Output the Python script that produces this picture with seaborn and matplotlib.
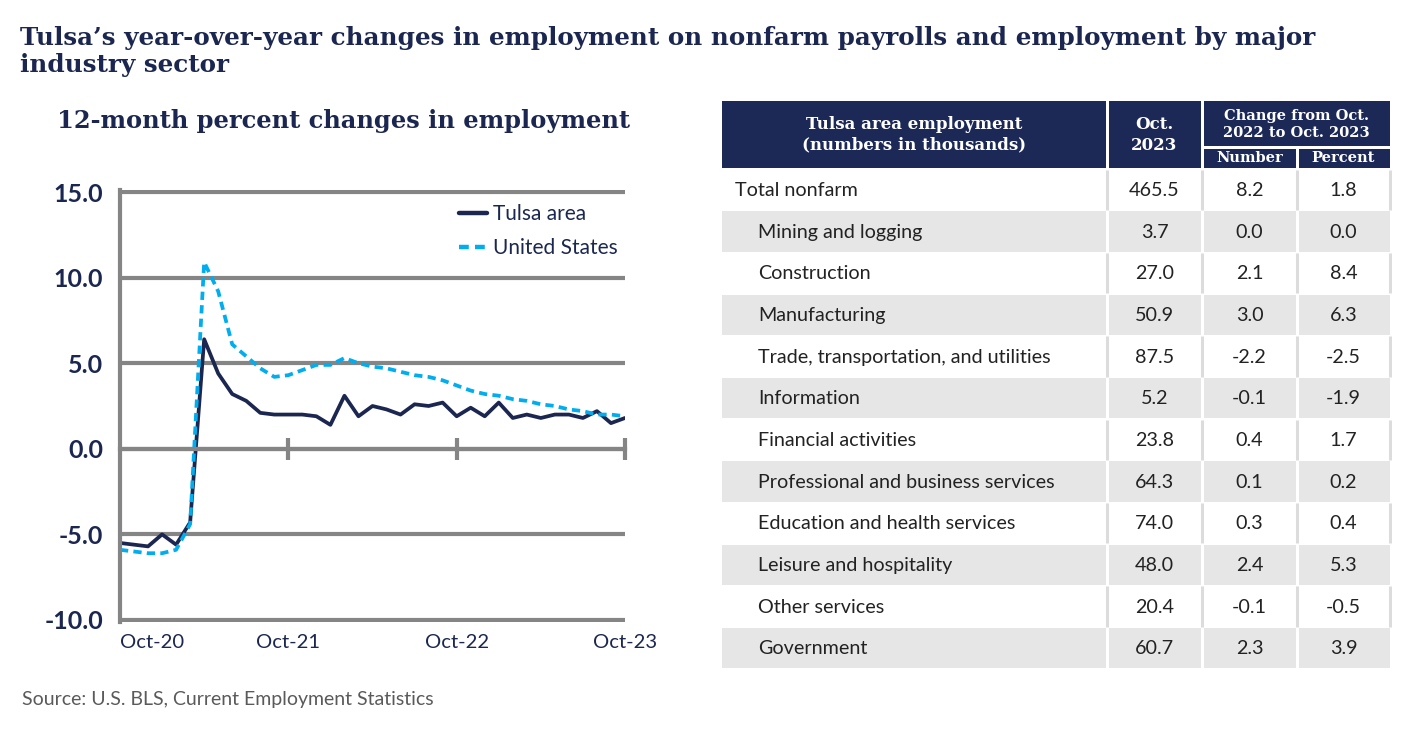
import numpy as np
import pandas as pd
import matplotlib
matplotlib.use("Agg")
import matplotlib.pyplot as plt
import seaborn as sns
from matplotlib.patches import Rectangle

# ---- data ----
months = pd.date_range("2020-10-01", "2023-10-01", freq="MS").strftime("%b-%y").tolist()
tulsa = [-5.5, -5.6, -5.7, -5.0, -5.6, -4.3, 6.4, 4.4, 3.2, 2.8, 2.1, 2.0, 2.0,
         2.0, 1.9, 1.4, 3.1, 1.9, 2.5, 2.3, 2.0, 2.6, 2.5, 2.7, 1.9, 2.4, 1.9,
         2.7, 1.8, 2.0, 1.8, 2.0, 2.0, 1.8, 2.2, 1.5, 1.8]
united_states = [-5.9, -6.0, -6.1, -6.1, -5.9, -4.4, 10.9, 9.2, 6.1, 5.4, 4.7, 4.2, 4.3,
                 4.6, 4.9, 4.9, 5.3, 5.0, 4.8, 4.7, 4.5, 4.3, 4.2, 4.0, 3.7, 3.4, 3.2,
                 3.1, 2.9, 2.8, 2.6, 2.5, 2.3, 2.2, 2.0, 2.0, 1.9]
x_tick_labels = ["Oct-20", "Oct-21", "Oct-22", "Oct-23"]
y_ticks = [-10.0, -5.0, 0.0, 5.0, 10.0, 15.0]

industries = ["Total nonfarm", "Mining and logging", "Construction", "Manufacturing",
              "Trade, transportation, and utilities", "Information", "Financial activities",
              "Professional and business services", "Education and health services",
              "Leisure and hospitality", "Other services", "Government"]
emp_oct23 = [465.5, 3.7, 27.0, 50.9, 87.5, 5.2, 23.8, 64.3, 74.0, 48.0, 20.4, 60.7]
chg_number = [8.2, 0.0, 2.1, 3.0, -2.2, -0.1, 0.4, 0.1, 0.3, 2.4, -0.1, 2.3]
chg_percent = [1.8, 0.0, 8.4, 6.3, -2.5, -1.9, 1.7, 0.2, 0.4, 5.3, -0.5, 3.9]

NAVY = "#1b2750"
BLUE = "#00aeef"
GRAY = "#858585"
HEADER = "#1c2957"
ROWGRAY = "#e6e6e7"
SEP = "#dcdcdc"
SERIF = "DejaVu Serif"

sns.set_style("white")
plt.rcParams["font.family"] = ["Lato", "DejaVu Sans"]

W, H = 1425, 733
fig = plt.figure(figsize=(W / 100, H / 100), dpi=100)

# titles
tkw = dict(family=SERIF, fontsize=17.7, fontweight="bold", color=NAVY, va="baseline", ha="left")
fig.text(20 / W, 1 - 44.5 / H, "Tulsa\u2019s year-over-year changes in employment on nonfarm payrolls and employment by major", **tkw)
fig.text(20 / W, 1 - 72 / H, "industry sector", **tkw)
fig.text(57 / W, 1 - 121 / H, "12-month percent changes in employment",
         family=SERIF, fontsize=17.4, fontweight="bold", color=NAVY, va="center", ha="left")
fig.text(22 / W, 1 - 700 / H, "Source: U.S. BLS, Current Employment Statistics",
         fontsize=14, color="#5a5a5a", va="center", ha="left")

# ---- line chart ----
ax = fig.add_axes([120 / W, 1 - 621.7 / H, 505 / W, (621.7 - 190.3) / H])
n = len(months)
df = pd.DataFrame({
    "month": list(range(n)) * 2,
    "pct": tulsa + united_states,
    "series": ["Tulsa area"] * n + ["United States"] * n,
})
sns.lineplot(data=df, x="month", y="pct", hue="series", style="series",
             palette={"Tulsa area": NAVY, "United States": BLUE},
             dashes={"Tulsa area": "", "United States": (2.2, 1.4)},
             linewidth=2.7, ax=ax)

handles, labels = ax.get_legend_handles_labels()
for h in handles:
    h.set_linewidth(3.2)
ax.legend(handles, labels, loc="upper right", bbox_to_anchor=(1.022, 1.012), frameon=False,
          fontsize=15, handlelength=1.35, handletextpad=0.25, labelspacing=0.68,
          labelcolor=NAVY)

ax.set_xlim(0, n - 1)
ax.set_ylim(-10.1, 15.1)
ax.set_yticks(y_ticks)
ax.set_yticklabels([f"{v:.1f}" for v in y_ticks])
ax.tick_params(axis="y", left=False, length=0, pad=12, labelsize=18, labelcolor=NAVY)
for lab in ax.get_yticklabels():
    lab.set_fontweight("bold")
ax.yaxis.grid(True, color=GRAY, linewidth=3)
ax.xaxis.grid(False)
ax.set_axisbelow(True)
for s in ["top", "right"]:
    ax.spines[s].set_visible(False)
ax.spines["left"].set_color(GRAY)
ax.spines["left"].set_linewidth(3)
ax.spines["bottom"].set_position(("data", 0))
ax.spines["bottom"].set_color(GRAY)
ax.spines["bottom"].set_linewidth(3)
tick_pos = [months.index(t) for t in x_tick_labels]
ax.set_xticks(tick_pos[1:])
ax.tick_params(axis="x", bottom=True, direction="inout", length=16, width=3, color=GRAY,
               labelbottom=False)
ax.set_xlabel("")
ax.set_ylabel("")

sec = ax.secondary_xaxis("bottom")
sec.set_xticks(tick_pos, labels=x_tick_labels)
sec.tick_params(length=0, pad=9, labelsize=14.6, labelcolor=NAVY)
sec.spines["bottom"].set_visible(False)
sec.get_xticklabels()[0].set_ha("left")

# ---- table ----
axt = fig.add_axes([722 / W, 1 - 670 / H, (1392 - 722) / W, (670 - 100) / H])
axt.set_xlim(722, 1392)
axt.set_ylim(670, 100)
axt.axis("off")

col_x = [722, 1107, 1202, 1297, 1390]
gap = 1.5
head_top, head_mid, head_bot = 101, 147.5, 168.3
pitch = (668.3 - head_bot) / len(industries)

def cell(x0, x1, y0, y1, color):
    axt.add_patch(Rectangle((x0, y0), x1 - x0, y1 - y0, facecolor=color, edgecolor="none"))

# header
cell(col_x[0], col_x[1] - gap, head_top, head_bot, HEADER)
cell(col_x[1] + gap, col_x[2] - gap, head_top, head_bot, HEADER)
cell(col_x[2] + gap, col_x[4], head_top, head_mid - gap, HEADER)
cell(col_x[2] + gap, col_x[3] - gap, head_mid + gap, head_bot, HEADER)
cell(col_x[3] + gap, col_x[4], head_mid + gap, head_bot, HEADER)

hkw = dict(family=SERIF, color="white", fontweight="bold", ha="center", va="center")
axt.text((col_x[0] + col_x[1]) / 2, 135, "Tulsa area employment\n(numbers in thousands)", fontsize=12, linespacing=1.25, **hkw)
axt.text((col_x[1] + col_x[2]) / 2, 135, "Oct.\n2023", fontsize=12, linespacing=1.25, **hkw)
axt.text((col_x[2] + col_x[4]) / 2, 124.5, "Change from Oct.\n2022 to Oct. 2023", fontsize=10.5, linespacing=1.2, **hkw)
axt.text((col_x[2] + col_x[3]) / 2, 158.5, "Number", fontsize=10.5, **hkw)
axt.text((col_x[3] + col_x[4]) / 2, 158.5, "Percent", fontsize=10.5, **hkw)

# rows
for i, name in enumerate(industries):
    y0 = head_bot + i * pitch + gap
    y1 = head_bot + (i + 1) * pitch
    yc = (y0 + y1) / 2 + 0.5
    shaded = i % 2 == 1
    for c in range(4):
        left = col_x[c] + (gap if c > 0 else 0)
        right = col_x[c + 1] - (gap if c < 3 else 0)
        cell(left, right, y0, y1, ROWGRAY if shaded else "white")
    if not shaded:
        for xs in col_x[1:]:
            axt.plot([xs, xs], [y0, y1], color=SEP, linewidth=2.2, solid_capstyle="butt")
    indent = 13 if i == 0 else 36
    axt.text(col_x[0] + indent, yc, name, fontsize=14.2, color="#222222", ha="left", va="center")
    for c, vals in zip(range(1, 4), [emp_oct23, chg_number, chg_percent]):
        axt.text((col_x[c] + col_x[c + 1]) / 2, yc, f"{vals[i]:.1f}", fontsize=14.2,
                 color="#222222", ha="center", va="center")

fig.savefig("out.png", dpi=100)
